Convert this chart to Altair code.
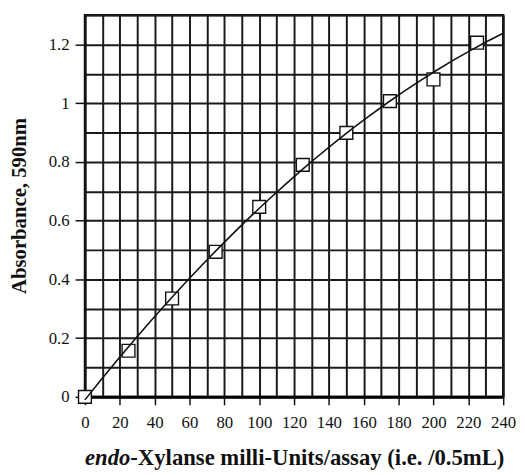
import altair as alt
import pandas as pd

units = [0, 25, 50, 75, 100, 125, 150, 175, 200, 225]
absorbance = [0.0, 0.157, 0.335, 0.494, 0.647, 0.79, 0.899, 1.007, 1.081, 1.206]

x_grid = list(range(0, 241, 10))
y_grid = [round(i * 0.1, 1) for i in range(0, 14)]

df = pd.DataFrame({"u": units, "a": absorbance})

FONT = "Liberation Serif"

x_enc = alt.X(
    "u:Q",
    scale=alt.Scale(domain=[0, 240], nice=False, zero=False),
    axis=alt.Axis(
        title=None,
        values=x_grid,
        labelExpr="datum.value % 20 == 0 ? datum.label : ''",
        tickOpacity=alt.expr("datum.value % 20 == 0 ? 1 : 0"),
        tickSize=8,
        tickWidth=1.5,
        tickColor="#111",
        labelPadding=10,
        labelFont=FONT,
        labelFontSize=17,
        labelColor="#111",
        labelFlush=False,
        labelOverlap=False,
        grid=True,
        gridColor="#1a1a1a",
        gridWidth=2,
        domainColor="#000",
        domainWidth=3,
    ),
)
y_enc = alt.Y(
    "a:Q",
    scale=alt.Scale(domain=[0, 1.3], nice=False, zero=False),
    axis=alt.Axis(
        title="Absorbance,  590nm",
        values=y_grid,
        format="~g",
        labelExpr="round(datum.value * 10) % 2 == 0 ? datum.label : ''",
        tickOpacity=alt.expr("round(datum.value * 10) % 2 == 0 ? 1 : 0"),
        tickSize=10,
        tickWidth=1.5,
        tickColor="#111",
        labelPadding=6,
        labelFont=FONT,
        labelFontSize=17,
        labelColor="#111",
        labelFlush=False,
        labelOverlap=False,
        grid=True,
        gridColor="#1a1a1a",
        gridWidth=2,
        domainColor="#111",
        domainWidth=2,
        titleFont=FONT,
        titleFontSize=21,
        titleFontWeight="bold",
        titleColor="#111",
        titleX=-66,
        titleY=193,
        titleAlign="center",
        titleBaseline="middle",
        titleAngle=270,
    ),
)

base = alt.Chart(df)

points = base.mark_point(
    shape="square", size=169, filled=False, fill="white", fillOpacity=1,
    stroke="#111", strokeWidth=1.4, opacity=1,
).encode(x=x_enc, y=y_enc)

fit = base.transform_regression(
    "u", "a", method="poly", order=2, extent=[0, 240]
).mark_line(color="#111", strokeWidth=1.6).encode(x=x_enc, y=y_enc)

title_italic = alt.Chart(pd.DataFrame({"t": ["endo"]})).mark_text(
    font=FONT, fontSize=23, fontWeight="bold", fontStyle="italic",
    align="right", baseline="alphabetic", color="#111",
).encode(x=alt.value(46), y=alt.value(456), text="t:N")

title_rest = alt.Chart(pd.DataFrame({"t": ["-Xylanse milli-Units/assay (i.e. /0.5mL)"]})).mark_text(
    font=FONT, fontSize=23, fontWeight="bold",
    align="left", baseline="alphabetic", color="#111",
).encode(x=alt.value(46), y=alt.value(456), text="t:N")

chart = alt.layer(points, fit, title_italic, title_rest).properties(
    width=424,
    height=387,
    autosize=alt.AutoSizeParams(type="none"),
    padding={"left": 78, "top": 4, "right": 14, "bottom": 75},
    background="white",
).configure_view(stroke="#111", strokeWidth=2.4)

chart.save("out.html", embed_options={"renderer": "svg", "actions": False})
